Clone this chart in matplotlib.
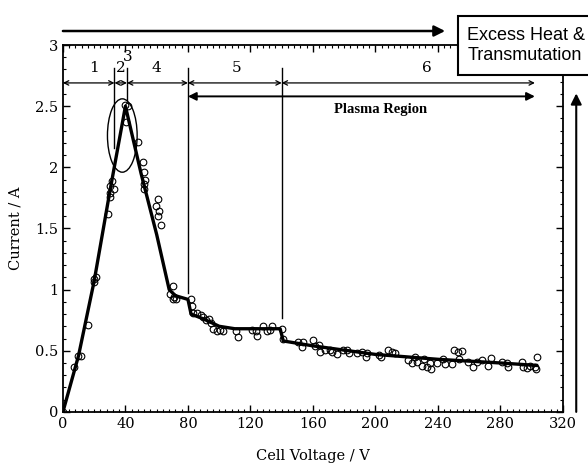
import numpy as np
import matplotlib.pyplot as plt
from matplotlib.patches import Ellipse, Rectangle
from matplotlib.ticker import MultipleLocator

# measured points (cell voltage V, current A)
volt = [0, 7, 9.8, 11.4, 15.8, 20, 21.3, 20, 29, 29.9, 30.3, 30.3, 31.6, 32.4,
        39.7, 40.1, 41.4, 48.2, 51.2, 52, 52.7, 52, 51.6,
        59.5, 60.8, 61, 61.6, 62.7, 68.7, 70.2, 71, 70.2, 72.5,
        81.7, 82.8, 83.4, 85.6, 88.3, 89.8, 91.5, 93.6, 94.5, 96.2, 98.3, 100.5, 102.6,
        111, 112, 121, 123.5, 124.4, 128.2, 130.3, 132.5, 133.5, 140, 141,
        150.6, 152.7, 153.4, 159.8, 161.3, 164, 164.5, 167.7, 170.9, 172, 175.2,
        179, 181.6, 183.2, 188, 191.2, 194, 194.8, 202.4, 203.5, 208.2, 210.4, 212.5,
        221, 223.2, 225.3, 226.4, 229.6, 231, 232.8, 235, 235.6, 239.2, 243.4, 244.5,
        248.8, 250.2, 253, 255.2, 253.6, 259.4, 262.2, 264.7, 268, 272.2, 273.7,
        280.7, 283.9, 285, 293.5, 294.6, 296.8, 298.9, 302, 303.2, 302.8]
curr = [0, 0.37, 0.46, 0.46, 0.71, 1.09, 1.10, 1.06, 1.62, 1.79, 1.76, 1.85, 1.89, 1.82,
        2.51, 2.37, 2.50, 2.21, 2.04, 1.96, 1.90, 1.86, 1.82,
        1.68, 1.74, 1.60, 1.64, 1.53, 0.96, 1.03, 0.94, 0.92, 0.92,
        0.92, 0.87, 0.81, 0.81, 0.79, 0.78, 0.75, 0.76, 0.73, 0.68, 0.66, 0.67, 0.66,
        0.66, 0.61, 0.67, 0.66, 0.62, 0.70, 0.66, 0.67, 0.70, 0.68, 0.60,
        0.575, 0.53, 0.575, 0.59, 0.54, 0.55, 0.49, 0.51, 0.51, 0.49, 0.47,
        0.51, 0.51, 0.485, 0.48, 0.49, 0.45, 0.485, 0.466, 0.45, 0.51, 0.49, 0.48,
        0.425, 0.40, 0.45, 0.41, 0.376, 0.43, 0.37, 0.40, 0.35, 0.40, 0.43, 0.39,
        0.39, 0.51, 0.49, 0.50, 0.43, 0.41, 0.37, 0.41, 0.425, 0.376, 0.44,
        0.41, 0.40, 0.37, 0.41, 0.37, 0.36, 0.376, 0.37, 0.45, 0.35]

# fitted curve
fit_v = [0, 10, 20, 30, 40, 50, 60, 68, 72, 80, 82, 90, 100, 110, 120, 139, 141,
         160, 200, 240, 280, 303]
fit_i = [0, 0.46, 1.07, 1.8, 2.5, 1.95, 1.45, 1.0, 0.95, 0.92, 0.8, 0.76, 0.7,
         0.68, 0.68, 0.68, 0.58, 0.54, 0.47, 0.43, 0.40, 0.38]

# region boundaries and labels
bounds = [0, 33, 41, 80, 140, 302]
div_bottom = [2.16, 2.55, 0.97, 0.77]
reg_labels = ['1', '2', '3', '4', '5', '6']
reg_x = [20, 37, 41.5, 59.5, 111, 233]
reg_y = [2.81, 2.81, 2.9, 2.81, 2.81, 2.81]

plt.rcParams['font.family'] = 'DejaVu Serif'
fig = plt.figure(figsize=(5.88, 4.67), dpi=100)
ax = fig.add_axes([0.107, 0.118, 0.8505, 0.7856])

ax.plot(fit_v, fit_i, '-', color='black', lw=2.4, zorder=2)
ax.plot(volt, curr, 'o', mfc='none', mec='black', ms=4.8, mew=0.8, zorder=3)

ax.set_xlim(0, 320)
ax.set_ylim(0, 3)
ax.xaxis.set_major_locator(MultipleLocator(40))
ax.xaxis.set_minor_locator(MultipleLocator(4))
ax.yaxis.set_major_locator(MultipleLocator(0.5))
ax.yaxis.set_minor_locator(MultipleLocator(0.1))
ax.yaxis.set_major_formatter(plt.FuncFormatter(lambda v, p: '%g' % v))
ax.tick_params(which='both', direction='in', top=True, right=True, labelsize=10.5)
ax.tick_params(which='major', length=5, width=1)
ax.tick_params(which='minor', length=2.5, width=0.8)
for s in ax.spines.values():
    s.set_linewidth(1.3)
ax.set_xlabel('Cell Voltage / V', fontsize=10.5, labelpad=13)
ax.set_ylabel('Current / A', fontsize=10.5, labelpad=9)

# region arrows, dividers and numbers
for a, b in zip(bounds[:-1], bounds[1:]):
    ax.annotate('', xy=(a, 2.69), xytext=(b, 2.69),
                arrowprops=dict(arrowstyle='<->', lw=0.9, color='black',
                                shrinkA=0, shrinkB=0, mutation_scale=8))
for x, yb in zip(bounds[1:-1], div_bottom):
    ax.plot([x, x], [yb, 2.81], color='black', lw=1)
for t, x, y in zip(reg_labels, reg_x, reg_y):
    ax.text(x, y, t, ha='center', va='center', fontsize=11)

ax.annotate('', xy=(80, 2.58), xytext=(302, 2.58),
            arrowprops=dict(arrowstyle='<|-|>', lw=1.4, color='black',
                            shrinkA=0, shrinkB=0, mutation_scale=12))
ax.text(203, 2.475, 'Plasma Region', ha='center', va='center', fontsize=10.5,
        fontweight='bold', family='Liberation Serif')

ax.add_patch(Ellipse((38, 2.26), 19, 0.6, fill=False, lw=1, ec='black'))

# top arrow and right arrow in figure coords
ax.annotate('', xy=(0.757, 0.9336), xytext=(0.107, 0.9336), xycoords='figure fraction',
            textcoords='figure fraction',
            arrowprops=dict(arrowstyle='-|>', lw=1.8, color='black',
                            shrinkA=0, shrinkB=0, mutation_scale=16))
ax.annotate('', xy=(0.98, 0.80), xytext=(0.98, 0.118), xycoords='figure fraction',
            textcoords='figure fraction',
            arrowprops=dict(arrowstyle='-|>', lw=1.5, color='black',
                            shrinkA=0, shrinkB=0, mutation_scale=16))

fig.patches.append(Rectangle((0.779, 0.839), 0.25, 0.126, transform=fig.transFigure,
                             fc='white', ec='black', lw=1.5, zorder=5))
fig.text(0.795, 0.9026, 'Excess Heat &\nTransmutation', ha='left', va='center',
         fontsize=13, family='Liberation Sans', linespacing=1.2, zorder=6)

fig.savefig('out.png', dpi=100)
